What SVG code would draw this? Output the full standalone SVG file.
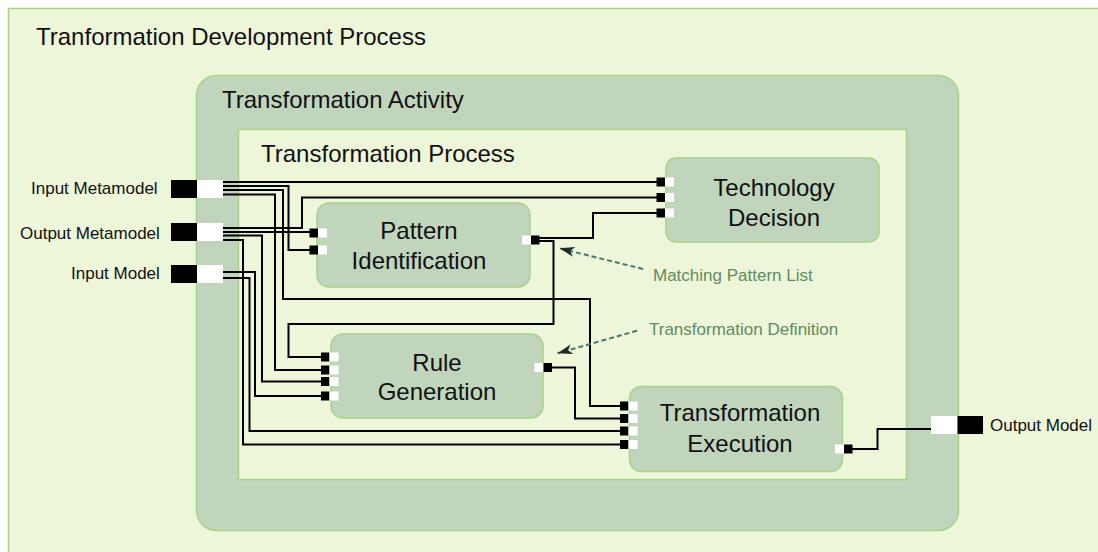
<svg xmlns="http://www.w3.org/2000/svg" width="1098" height="552" viewBox="0 0 1098 552">
<style>
  text{font-family:"Liberation Sans",Arial,sans-serif;fill:#111}
  .t24{font-size:24px}
  .t17{font-size:17px}
  .note{font-size:17px;fill:#5f8b5f}
  .mid{text-anchor:middle}
  .bg{fill:#eef6da;stroke:#a8d18a;stroke-width:1.5}
  .act{fill:#c0d5bc;stroke:#a8d18a;stroke-width:1.5}
  .node{fill:#c0d5bc;stroke:#a8d18a;stroke-width:1.5}
  .wire{fill:none;stroke:#000;stroke-width:2;stroke-linejoin:miter}
  .pb{fill:#000}
  .pw{fill:#fff}
  .dash{fill:none;stroke:#4b776c;stroke-width:2;stroke-dasharray:5 3}
</style>
<defs>
  <marker id="arr" markerUnits="userSpaceOnUse" markerWidth="15" markerHeight="10" viewBox="0 0 15 10" refX="15" refY="5" orient="auto">
    <path d="M0,0 L15,5 L0,10 L4,5 z" fill="#1e2b26" stroke="none"/>
  </marker>
</defs>

<g id="process-frame">
  <rect class="bg" x="8.5" y="8.5" width="1100" height="560"/>
  <text class="t24" x="36" y="44.5">Tranformation Development Process</text>
</g>

<g id="transformation-activity">
  <rect class="act" x="196.5" y="75.5" width="762" height="455" rx="20"/>
  <text class="t24" x="222" y="107.5">Transformation Activity</text>
</g>

<g id="transformation-process">
  <rect class="bg" x="238.5" y="129.5" width="668" height="350"/>
  <text class="t24" x="261" y="162">Transformation Process</text>
</g>

<g id="connectors">
  <!-- Input Metamodel -->
  <path class="wire" d="M222,182 H657"/>
  <path class="wire" d="M222,186 H288.5 V250 H310"/>
  <path class="wire" d="M222,190 H283 V299 H590 V406 H620"/>
  <path class="wire" d="M222,194.5 H275 V370 H321"/>
  <!-- Output Metamodel -->
  <path class="wire" d="M222,228 H302 V197.5 H657"/>
  <path class="wire" d="M222,232 H310"/>
  <path class="wire" d="M222,235.5 H262 V381.5 H321"/>
  <path class="wire" d="M222,240 H243 V444.5 H620"/>
  <!-- Input Model -->
  <path class="wire" d="M219,272 H255 V396 H321"/>
  <path class="wire" d="M219,278 H249.5 V431 H620"/>
  <!-- Pattern Identification output -->
  <path class="wire" d="M539,238 H593 V213 H657"/>
  <path class="wire" d="M539,241 H553.5 V324 H288.5 V357 H321"/>
  <!-- Rule Generation output -->
  <path class="wire" d="M552,367.5 H575 V418.5 H620"/>
  <!-- Transformation Execution output -->
  <path class="wire" d="M852,449 H877.5 V429 H931"/>
  <!-- annotations -->
  <path class="dash" d="M643,269 L559.5,248.3" marker-end="url(#arr)"/>
  <path class="dash" d="M637,330.7 L557.5,353.3" marker-end="url(#arr)"/>
</g>

<g id="input-metamodel">
  <rect class="pb" x="171" y="180" width="26" height="18"/>
  <rect class="pw" x="197" y="180" width="26" height="18"/>
  <text class="t17" x="31" y="193.5">Input Metamodel</text>
</g>
<g id="output-metamodel">
  <rect class="pb" x="171" y="223" width="26" height="18"/>
  <rect class="pw" x="197" y="223" width="26" height="18"/>
  <text class="t17" x="20" y="238.5">Output Metamodel</text>
</g>
<g id="input-model">
  <rect class="pb" x="171" y="265" width="26" height="18"/>
  <rect class="pw" x="197" y="265" width="26" height="18"/>
  <text class="t17" x="71" y="279">Input Model</text>
</g>
<g id="output-model">
  <rect class="pw" x="931" y="416" width="26.5" height="18"/>
  <rect class="pb" x="957.5" y="416" width="25.5" height="18"/>
  <text class="t17" x="990" y="430.5">Output Model</text>
</g>

<g id="technology-decision">
  <rect class="node" x="666" y="158" width="213" height="84" rx="10"/>
  <rect class="pb" x="656.5" y="177.5" width="8.5" height="9"/><rect class="pw" x="665" y="177.5" width="9" height="9"/>
  <rect class="pb" x="656.5" y="193" width="8.5" height="9"/><rect class="pw" x="665" y="193" width="9" height="9"/>
  <rect class="pb" x="656.5" y="208.5" width="8.5" height="9"/><rect class="pw" x="665" y="208.5" width="9" height="9"/>
  <text class="t24 mid" x="774" y="196">Technology</text>
  <text class="t24 mid" x="774" y="226">Decision</text>
</g>

<g id="pattern-identification">
  <rect class="node" x="317" y="203" width="213" height="84" rx="12"/>
  <rect class="pb" x="309.5" y="228.5" width="8.5" height="9"/><rect class="pw" x="318" y="228.5" width="9" height="9"/>
  <rect class="pb" x="309.5" y="245.5" width="8.5" height="9"/><rect class="pw" x="318" y="245.5" width="9" height="9"/>
  <rect class="pw" x="522" y="235.5" width="9" height="9"/><rect class="pb" x="531" y="235.5" width="8.5" height="9"/>
  <text class="t24 mid" x="419" y="239">Pattern</text>
  <text class="t24 mid" x="419" y="269">Identification</text>
</g>

<g id="rule-generation">
  <rect class="node" x="331" y="334" width="212" height="84" rx="12"/>
  <rect class="pb" x="321" y="352.5" width="8.5" height="9"/><rect class="pw" x="329.5" y="352.5" width="9" height="9"/>
  <rect class="pb" x="321" y="365.5" width="8.5" height="9"/><rect class="pw" x="329.5" y="365.5" width="9" height="9"/>
  <rect class="pb" x="321" y="377" width="8.5" height="9"/><rect class="pw" x="329.5" y="377" width="9" height="9"/>
  <rect class="pb" x="321" y="391.5" width="8.5" height="9"/><rect class="pw" x="329.5" y="391.5" width="9" height="9"/>
  <rect class="pw" x="534.5" y="363" width="9" height="9"/><rect class="pb" x="543.5" y="363" width="8.5" height="9"/>
  <text class="t24 mid" x="437" y="370.5">Rule</text>
  <text class="t24 mid" x="437" y="400">Generation</text>
</g>

<g id="transformation-execution">
  <rect class="node" x="629.5" y="386.5" width="213" height="85" rx="12"/>
  <rect class="pb" x="620" y="401.5" width="8.5" height="9"/><rect class="pw" x="628.5" y="401.5" width="9" height="9"/>
  <rect class="pb" x="620" y="414" width="8.5" height="9"/><rect class="pw" x="628.5" y="414" width="9" height="9"/>
  <rect class="pb" x="620" y="426.5" width="8.5" height="9"/><rect class="pw" x="628.5" y="426.5" width="9" height="9"/>
  <rect class="pb" x="620" y="440" width="8.5" height="9"/><rect class="pw" x="628.5" y="440" width="9" height="9"/>
  <rect class="pw" x="835" y="444.5" width="9" height="9"/><rect class="pb" x="844" y="444.5" width="8.5" height="9"/>
  <text class="t24 mid" x="740" y="420.5">Transformation</text>
  <text class="t24 mid" x="740" y="451.5">Execution</text>
</g>

<g id="annotations">
  <text class="note" x="653" y="280.5">Matching Pattern List</text>
  <text class="note" x="649" y="335">Transformation Definition</text>
</g>
</svg>
